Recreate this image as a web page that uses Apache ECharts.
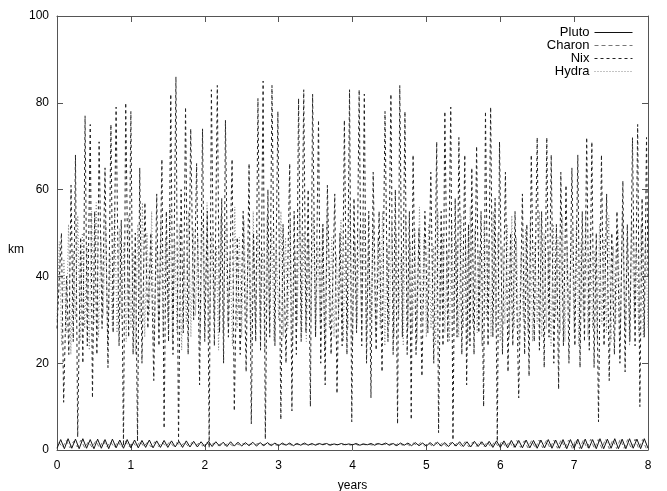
<!DOCTYPE html>
<html>
<head>
<meta charset="utf-8">
<script src="https://cdn.jsdelivr.net/npm/echarts@6/dist/echarts.min.js"></script>
<style>
html,body{margin:0;padding:0;background:#fff;}
#chart{width:667px;height:491px;}
</style>
</head>
<body>
<div id="chart"></div>
<script>
// ---- data ----
const seriesNames = ['Pluto', 'Charon', 'Nix', 'Hydra'];
const xTicks = [0, 1, 2, 3, 4, 5, 6, 7, 8];
const yTicks = [0, 20, 40, 60, 80, 100];

// Nix: peaks and troughs (years, km)
const nixYears = [0.00,0.06,0.09,0.13,0.16,0.19,0.22,0.25,0.28,0.32,0.35,0.38,0.41,0.45,0.48,0.51,0.54,0.57,0.61,0.65,0.69,0.73,0.76,0.80,0.84,0.87,0.90,0.93,0.97,
1.00,1.03,1.06,1.09,1.12,1.15,1.19,1.23,1.27,1.31,1.35,1.38,1.42,1.45,1.48,1.51,1.54,1.57,1.61,1.645,1.68,1.71,1.74,1.775,1.81,1.85,1.89,1.93,1.97,
2.00,2.035,2.06,2.09,2.13,2.17,2.20,2.23,2.255,2.28,2.32,2.37,2.40,2.44,2.48,2.52,2.56,2.60,2.63,2.66,2.69,2.72,2.755,2.79,2.82,2.855,2.88,2.91,2.95,2.99,
3.03,3.06,3.10,3.15,3.18,3.21,3.24,3.27,3.305,3.34,3.37,3.40,3.43,3.46,3.50,3.54,3.57,3.60,3.63,3.66,3.71,3.76,3.79,3.83,3.86,3.89,3.925,3.96,3.99,
4.02,4.055,4.09,4.125,4.16,4.19,4.22,4.25,4.28,4.32,4.36,4.40,4.44,4.48,4.52,4.55,4.58,4.61,4.64,4.675,4.71,4.74,4.77,4.795,4.82,4.86,4.90,4.94,4.98,
5.02,5.06,5.10,5.14,5.165,5.20,5.225,5.25,5.29,5.33,5.36,5.39,5.415,5.44,5.48,5.52,5.545,5.57,5.59,5.615,5.645,5.68,5.71,5.74,5.775,5.80,5.835,5.87,5.90,5.93,5.96,5.99,
6.03,6.07,6.105,6.14,6.17,6.20,6.25,6.30,6.33,6.36,6.39,6.42,6.46,6.50,6.53,6.56,6.595,6.63,6.66,6.69,6.725,6.76,6.79,6.82,6.855,6.89,6.93,6.97,
7.01,7.05,7.08,7.11,7.14,7.17,7.205,7.24,7.27,7.30,7.33,7.37,7.405,7.44,7.475,7.51,7.545,7.58,7.62,7.66,7.69,7.72,7.755,7.79,7.825,7.86,7.89,7.92,7.95,7.98,8.00];
const nixKm = [28,50,11,40,22,61,25,68,3,49,20,77,24,75,12,55,22,71,28,65,19,75,27,79,24,53,1,80,26,
78,22,50,2,65,20,57,28,50,16,59,24,67,5,55,25,82,22,86,2,60,27,79,22,74,30,66,15,74,
25,55,0.5,83,24,84,27,58,20,76,26,67,9,49,22,55,18,66,6,50,25,81,23,85,2.5,60,26,84,24,78,
7,52,20,66,9,55,22,81,25,83,27,60,10,82,26,76,20,52,15,61,22,59,13,50,24,76,22,83,6.5,
58,27,83,24,82,20,55,12,64,23,55,18,78,25,82,22,60,6,84,26,78,22,55,7,68,22,51,17,55,
27,64,20,71,4,55,24,78,25,79,2.3,58,26,72,22,68,15,52,24,65,22,70,27,55,10,78,24,79,26,58,2,71,
22,64,18,50,24,55,12,59,22,52,17,68,25,72,23,55,19,72,26,68,20,52,14,64,24,61,20,65,
24,68,19,55,25,72,23,71,19,50,6.5,68,24,59,16,50,22,55,20,62,18,52,25,72,24,75,10,58,26,72,40];

// Hydra: sampled every 1/32 year
const hydraStep = 1 / 32;
const hydraKm = [
30,48,24,44,27,52,22,46,30,54,25,50,28,47,23,55,
29,57,26,49,31,53,24,45,28,56,27,51,30,48,25,54,
28,46,22,52,29,57,26,50,31,55,24,47,28,53,26,49,
30,56,25,48,27,52,23,46,29,55,26,51,31,49,24,53,
28,57,25,50,30,47,23,54,27,52,29,45,24,56,28,49,
26,53,30,48,24,55,27,50,29,46,23,54,28,51,25,47,
30,55,26,49,28,53,24,46,29,56,27,50,25,48,30,54,
26,47,29,52,23,55,28,49,26,45,30,53,25,50,28,56,
24,48,29,51,27,54,25,46,30,52,26,49,28,55,24,47,
29,53,26,50,30,45,24,54,28,48,27,51,25,56,29,49,
26,52,28,47,24,55,30,50,27,46,25,53,29,48,26,54,
28,49,25,56,29,51,27,46,24,53,30,48,26,55,28,50,
25,47,29,52,26,54,28,49,24,45,30,51,27,53,25,48,
29,55,26,50,28,46,24,52,30,49,27,54,25,47,29,51,
27,53,24,48,30,55,26,50,28,46,25,52,29,49,27,54,
25,47,29,51,26,55,28,49,24,53,30,48,27,52,26,50,
28];

// Pluto: sampled every 0.05 year
const plutoStep = 0.05;
const plutoKm = [
0.4,2.4,0.3,2.6,0.4,2.5,0.3,2.6,0.4,2.4,0.3,2.5,0.4,2.4,0.3,2.5,0.5,2.3,0.4,2.4,
0.5,2.3,0.5,2.2,0.6,2.3,0.5,2.1,0.6,2.2,0.6,2.1,0.7,2.0,0.6,2.1,0.7,2.0,0.7,1.9,
0.8,2.0,0.8,1.9,0.9,1.8,0.8,1.9,0.9,1.8,0.9,1.7,1.0,1.8,0.9,1.7,1.0,1.7,1.0,1.6,
1.0,1.6,1.1,1.6,1.0,1.5,1.1,1.6,1.1,1.5,1.1,1.5,1.2,1.5,1.1,1.4,1.2,1.5,1.2,1.4,
1.2,1.5,1.1,1.4,1.2,1.5,1.1,1.5,1.2,1.6,1.1,1.5,1.0,1.6,1.1,1.6,1.0,1.7,1.0,1.6,
0.9,1.7,1.0,1.8,0.9,1.7,0.8,1.8,0.9,1.9,0.8,1.9,0.7,2.0,0.8,1.9,0.7,2.0,0.6,2.1,
0.6,2.1,0.5,2.2,0.6,2.2,0.5,2.3,0.5,2.2,0.4,2.3,0.5,2.4,0.4,2.3,0.4,2.4,0.3,2.4,
0.4,2.5,0.3,2.5,0.4,2.4,0.3,2.6,0.3,2.5,0.4,2.6,0.3,2.5,0.3,2.6,0.4,2.5,0.3,2.6,
0.4];

// Charon: sampled every 0.05 year starting at 0.025
const charonStart = 0.025;
const charonStep = 0.05;
const charonKm = [
1.8,0.6,2.2,0.5,2.0,0.7,2.3,0.5,1.9,0.6,2.1,0.5,2.2,0.7,1.9,0.6,2.0,0.6,2.1,0.7,
1.9,0.7,2.0,0.8,1.8,0.7,1.9,0.8,1.8,0.8,1.9,0.9,1.7,0.8,1.8,0.9,1.7,1.0,1.6,0.9,
1.7,1.0,1.6,1.0,1.5,1.1,1.6,1.0,1.5,1.1,1.5,1.1,1.4,1.2,1.5,1.1,1.4,1.2,1.4,1.1,
1.4,1.2,1.5,1.1,1.4,1.2,1.4,1.2,1.3,1.1,1.4,1.2,1.5,1.1,1.4,1.2,1.3,1.2,1.4,1.1,
1.5,1.1,1.4,1.2,1.3,1.1,1.5,1.2,1.4,1.1,1.5,1.0,1.6,1.1,1.5,1.0,1.6,1.0,1.7,0.9,
1.6,1.0,1.7,0.9,1.8,0.8,1.7,0.9,1.8,0.8,1.9,0.7,1.8,0.8,2.0,0.7,1.9,0.6,2.0,0.7,
2.1,0.6,2.0,0.5,2.2,0.6,2.1,0.5,2.2,0.4,2.3,0.5,2.2,0.4,2.3,0.4,2.4,0.5,2.3,0.4,
2.4,0.3,2.3,0.4,2.5,0.3,2.4,0.4,2.5,0.3,2.4,0.3,2.5,0.4,2.4,0.3,2.5,0.3,2.4,0.4];

// ---- build ----
const pluto = plutoKm.map((v, i) => [i * plutoStep, v]);
const charon = charonKm.map((v, i) => [charonStart + i * charonStep, v]);
const nix = nixKm.map((v, i) => [nixYears[i], v]);
const hydra = hydraKm.map((v, i) => [i * hydraStep, v]);

const FONT = 'Liberation Sans, Arial, Helvetica, sans-serif';
const frameColor = '#555';

const chart = echarts.init(document.getElementById('chart'), null, {renderer: 'canvas'});
const axisCommon = {
  type: 'value',
  splitLine: {show: false},
  axisLine: {show: true, onZero: false, lineStyle: {color: frameColor, width: 1}},
  axisTick: {show: true, inside: true, length: 6, lineStyle: {color: frameColor}},
};
chart.setOption({
  animation: false,
  backgroundColor: '#fff',
  grid: {left: 57, right: 19, top: 16, bottom: 41, containLabel: false, outerBoundsMode: 'none'},
  legend: {
    data: seriesNames,
    orient: 'vertical',
    right: 29,
    top: 21,
    align: 'right',
    itemWidth: 38,
    itemHeight: 12,
    itemGap: 0,
    itemStyle: {opacity: 0, borderWidth: 0},
    lineStyle: {width: 1},
    textStyle: {fontFamily: FONT, fontSize: 13, color: '#000'},
    inactiveColor: '#ccc'
  },
  graphic: [{
    type: 'text', left: 8, top: 244,
    style: {text: 'km', font: '12px ' + FONT, fill: '#000'}
  }],
  xAxis: [
    Object.assign({}, axisCommon, {
      position: 'bottom', min: 0, max: 8, interval: 1,
      axisLabel: {show: true, margin: 10, color: '#000', fontFamily: FONT, fontSize: 12,
        formatter: v => xTicks.includes(v) ? String(v) : ''},
      name: 'years', nameLocation: 'middle', nameGap: 30,
      nameTextStyle: {fontFamily: FONT, fontSize: 12, color: '#000'}
    }),
    Object.assign({}, axisCommon, {
      position: 'top', min: 0, max: 8, interval: 1,
      axisLabel: {show: false}
    })
  ],
  yAxis: [
    Object.assign({}, axisCommon, {
      position: 'left', min: 0, max: 100, interval: 20,
      axisLabel: {show: true, margin: 8, color: '#000', fontFamily: FONT, fontSize: 12,
        formatter: v => yTicks.includes(v) ? String(v) : ''}
    }),
    Object.assign({}, axisCommon, {
      position: 'right', min: 0, max: 100, interval: 20,
      axisLabel: {show: false}
    })
  ],
  series: [
    {name: 'Pluto', type: 'line', data: pluto, showSymbol: false, symbol: 'none', z: 4,
      lineStyle: {color: '#111', width: 1, type: 'solid'}, itemStyle: {color: '#111'}},
    {name: 'Charon', type: 'line', data: charon, showSymbol: false, symbol: 'none', z: 3,
      lineStyle: {color: '#777', width: 1, type: [4, 3]}, itemStyle: {color: '#777'}},
    {name: 'Nix', type: 'line', data: nix, showSymbol: false, symbol: 'none', z: 5,
      lineStyle: {color: '#222', width: 1, type: [3, 3]}, itemStyle: {color: '#222'}},
    {name: 'Hydra', type: 'line', data: hydra, showSymbol: false, symbol: 'none', z: 2,
      lineStyle: {color: '#888', width: 1, type: [1, 2]}, itemStyle: {color: '#888'}}
  ]
});
</script>
</body>
</html>
